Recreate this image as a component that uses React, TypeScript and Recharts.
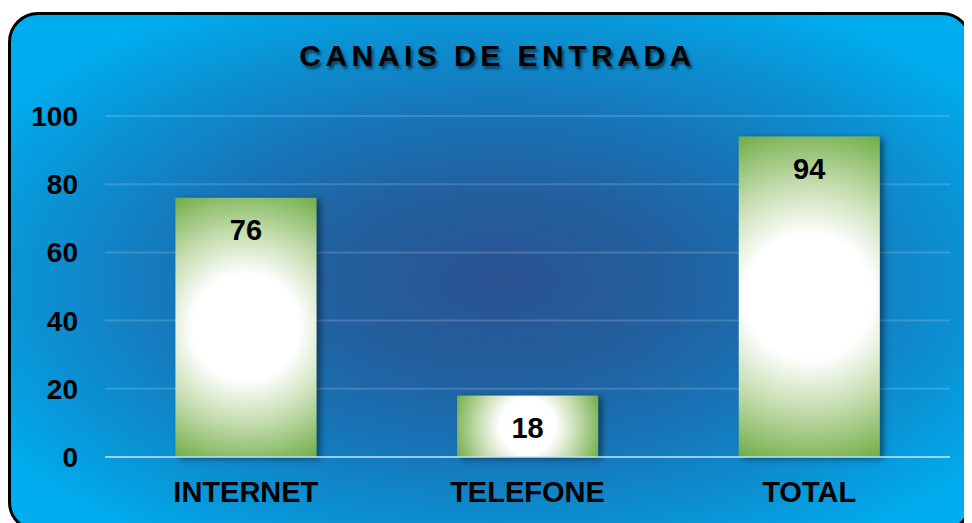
import React from "react";
import { BarChart, Bar, XAxis, YAxis, CartesianGrid, LabelList } from "recharts";

const categories = ["INTERNET", "TELEFONE", "TOTAL"];
const values = [76, 18, 94];
const yTicks = [0, 20, 40, 60, 80, 100];
const title = "CANAIS DE ENTRADA";

const data = categories.map((c, i) => ({ name: c, value: values[i] }));

const FONT = "'Liberation Sans', Arial, Helvetica, sans-serif";

const GradBar = (props: any) => {
  const { x, y, width, height, index } = props;
  if (width == null || height == null) return null;
  const cx = x + width / 2;
  const cy = y + height / 2;
  const r = Math.sqrt(width * width + height * height) / 2;
  const id = `barGrad${index}`;
  return (
    <g>
      <defs>
        <radialGradient id={id} gradientUnits="userSpaceOnUse" cx={cx} cy={cy} r={r}>
          <stop offset="0" stopColor="#ffffff" />
          <stop offset="0.36" stopColor="#ffffff" />
          <stop offset="0.65" stopColor="#c4dcae" />
          <stop offset="1" stopColor="#70ad47" />
        </radialGradient>
      </defs>
      <rect x={x} y={y} width={width} height={height} fill={`url(#${id})`} filter="url(#barShadow)" />
    </g>
  );
};

export default function App() {
  const W = 964;
  const H = 515;
  const LS = 4.5;
  return (
    <div style={{ position: "relative", width: W, height: H, overflow: "hidden" }}>
      <div
        style={{
          position: "absolute",
          left: 0,
          top: 4,
          width: W,
          height: 520,
          boxSizing: "border-box",
          border: "3px solid #000",
          borderRadius: 30,
          background:
            "radial-gradient(ellipse 62% 62% at 51% 52%, #2a5291 0%, #22609f 30%, #1676b9 55%, #0a93d5 80%, #00adee 100%)",
        }}
      />
      <div
        style={{
          position: "absolute",
          left: 3 + LS,
          top: 33,
          width: W,
          textAlign: "center",
          fontFamily: FONT,
          fontWeight: 700,
          fontSize: 30,
          letterSpacing: LS,
          color: "#000",
          textShadow: "2px 3px 3px rgba(0,0,0,0.55)",
          lineHeight: "30px",
          whiteSpace: "nowrap",
        }}
      >
        {title}
      </div>
      <div style={{ position: "absolute", left: 0, top: 0 }}>
        <BarChart
          width={W}
          height={H}
          data={data}
          margin={{ top: 108, right: 22, bottom: 0, left: 0 }}
          barCategoryGap="25%"
        >
          <defs>
            <filter id="barShadow" x="-20%" y="-20%" width="140%" height="140%">
              <feDropShadow dx="4" dy="2" stdDeviation="3" floodColor="#000" floodOpacity="0.45" />
            </filter>
          </defs>
          <CartesianGrid
            horizontal={true}
            vertical={false}
            stroke="rgba(255,255,255,0.16)"
            strokeWidth={2}
          />
          <XAxis
            dataKey="name"
            height={66}
            tickSize={0}
            tickMargin={24}
            axisLine={{ stroke: "rgba(200,230,250,0.7)", strokeWidth: 2 }}
            tickLine={false}
            tick={{ fill: "#000", fontSize: 29, fontWeight: 700, fontFamily: FONT }}
          />
          <YAxis
            width={97}
            domain={[0, 100]}
            ticks={yTicks}
            tickSize={0}
            tickMargin={27}
            axisLine={false}
            tickLine={false}
            tick={{ fill: "#000", fontSize: 28, fontWeight: 700, fontFamily: FONT }}
          />
          <Bar dataKey="value" shape={<GradBar />} isAnimationActive={false}>
            <LabelList
              dataKey="value"
              position="insideTop"
              offset={22}
              fill="#000"
              style={{ fontSize: 29, fontWeight: 700, fontFamily: FONT }}
            />
          </Bar>
        </BarChart>
      </div>
    </div>
  );
}
